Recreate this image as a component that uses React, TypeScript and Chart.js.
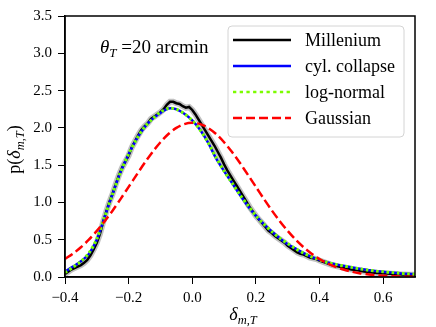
import React, { useEffect, useRef } from 'react';
import { Chart, registerables } from 'chart.js';

Chart.register(...registerables);

// ---------- data ----------
const millX = [
  -0.4, -0.39, -0.38, -0.37, -0.36, -0.35, -0.34, -0.33, -0.32, -0.31, -0.3, -0.29, -0.28, -0.27, -0.26,
  -0.25, -0.24, -0.23, -0.22, -0.21, -0.2, -0.19, -0.18, -0.17, -0.16, -0.15, -0.14, -0.13, -0.12, -0.11,
  -0.1, -0.09, -0.08, -0.07, -0.06, -0.05, -0.04, -0.03, -0.02, -0.01, 0.0, 0.01, 0.02, 0.03, 0.04, 0.05,
  0.06, 0.07, 0.08, 0.09, 0.1, 0.11, 0.12, 0.13, 0.14, 0.15, 0.16, 0.17, 0.18, 0.19, 0.2, 0.21, 0.22, 0.23,
  0.24, 0.25, 0.26, 0.27, 0.28, 0.29, 0.3, 0.31, 0.32, 0.33, 0.34, 0.35, 0.36, 0.37, 0.38, 0.39, 0.4, 0.42,
  0.44, 0.46, 0.48, 0.5, 0.52, 0.54, 0.56, 0.58, 0.6, 0.62, 0.64, 0.66, 0.68, 0.7,
];
const millY = [
  0.04, 0.07, 0.1, 0.12, 0.14, 0.16, 0.19, 0.23, 0.29, 0.37, 0.46, 0.58, 0.74, 0.88, 1.01,
  1.12, 1.25, 1.37, 1.47, 1.55, 1.63, 1.74, 1.82, 1.9, 1.97, 2.02, 2.06, 2.12, 2.15, 2.18,
  2.21, 2.25, 2.31, 2.35, 2.35, 2.33, 2.32, 2.29, 2.27, 2.28, 2.24, 2.18, 2.11, 2.04, 1.97, 1.9,
  1.83, 1.76, 1.68, 1.6, 1.51, 1.43, 1.36, 1.29, 1.22, 1.15, 1.08, 1.01, 0.94, 0.88, 0.82, 0.77, 0.72, 0.67,
  0.62, 0.59, 0.55, 0.52, 0.49, 0.46, 0.42, 0.39, 0.36, 0.33, 0.31, 0.3, 0.28, 0.26, 0.25, 0.24, 0.22, 0.19,
  0.16, 0.14, 0.12, 0.1, 0.09, 0.075, 0.065, 0.055, 0.05, 0.045, 0.04, 0.035, 0.03, 0.03,
];

const modelX = [
  -0.4, -0.375, -0.35, -0.325, -0.3, -0.275, -0.25, -0.225, -0.2, -0.175, -0.15, -0.125, -0.1, -0.075, -0.05,
  -0.025, 0.0, 0.025, 0.05, 0.075, 0.1, 0.125, 0.15, 0.175, 0.2, 0.225, 0.25, 0.275, 0.3, 0.325, 0.35,
  0.375, 0.4, 0.425, 0.45, 0.475, 0.5, 0.525, 0.55, 0.575, 0.6, 0.625, 0.65, 0.675, 0.7,
];
const cylY = [
  0.07, 0.14, 0.21, 0.31, 0.5, 0.81, 1.12, 1.41, 1.65, 1.85, 2.01, 2.12, 2.2, 2.26, 2.25,
  2.19, 2.1, 1.97, 1.8, 1.59, 1.42, 1.26, 1.1, 0.95, 0.82, 0.71, 0.61, 0.52, 0.44, 0.38, 0.32,
  0.27, 0.23, 0.195, 0.17, 0.15, 0.13, 0.11, 0.095, 0.08, 0.07, 0.06, 0.05, 0.043, 0.036,
];
const lnY = [
  0.06, 0.13, 0.21, 0.32, 0.51, 0.81, 1.12, 1.41, 1.65, 1.85, 2.01, 2.12, 2.21, 2.26, 2.25,
  2.19, 2.1, 1.97, 1.8, 1.6, 1.42, 1.26, 1.1, 0.96, 0.82, 0.71, 0.61, 0.52, 0.45, 0.38, 0.32,
  0.27, 0.23, 0.195, 0.17, 0.15, 0.13, 0.11, 0.095, 0.08, 0.07, 0.06, 0.05, 0.043, 0.036,
];
const gaussY = [
  0.242, 0.313, 0.399, 0.5, 0.618, 0.749, 0.893, 1.048, 1.209, 1.37, 1.528, 1.676, 1.807, 1.917, 1.999,
  2.05, 2.067, 2.05, 1.999, 1.917, 1.807, 1.676, 1.528, 1.37, 1.209, 1.048, 0.893, 0.749, 0.618, 0.5, 0.399,
  0.313, 0.242, 0.183, 0.136, 0.1, 0.072, 0.051, 0.036, 0.024, 0.016, 0.011, 0.007, 0.005, 0.003,
];

const xTickVals = [-0.4, -0.2, 0.0, 0.2, 0.4, 0.6];
const yTickVals = [0.0, 0.5, 1.0, 1.5, 2.0, 2.5, 3.0, 3.5];
const legendLabels = ['Millenium', 'cyl. collapse', 'log-normal', 'Gaussian'];
const annotation = { symbol: '\u03B8', sub: 'T', rest: ' =20 arcmin' };

// ---------- styling ----------
const FONT = "'Liberation Serif', 'Times New Roman', serif";

const pts = (xs: number[], ys: number[]) => xs.map((x, i) => ({ x, y: ys[i] }));

type Seg = { t: string; size: number; italic?: boolean; dy?: number };

function drawRich(ctx: CanvasRenderingContext2D, x: number, y: number, segs: Seg[], align: 'left' | 'center') {
  const fontOf = (s: Seg) => `${s.italic ? 'italic ' : ''}${s.size}px ${FONT}`;
  let total = 0;
  for (const s of segs) {
    ctx.font = fontOf(s);
    total += ctx.measureText(s.t).width;
  }
  let cx = align === 'center' ? x - total / 2 : x;
  ctx.textAlign = 'left';
  ctx.textBaseline = 'alphabetic';
  for (const s of segs) {
    ctx.font = fontOf(s);
    ctx.fillText(s.t, cx, y + (s.dy || 0));
    cx += ctx.measureText(s.t).width;
  }
}

const overlayPlugin = {
  id: 'overlay',
  afterDraw(chart: any) {
    const ctx: CanvasRenderingContext2D = chart.ctx;
    const a = chart.chartArea;
    ctx.save();
    // frame
    ctx.strokeStyle = '#000';
    ctx.lineWidth = 1.5;
    ctx.strokeRect(a.left, a.top, a.right - a.left, a.bottom - a.top);

    // legend
    const lx = a.right - 187;
    const ly = a.top + 10;
    const lw = 176;
    const lh = 111;
    ctx.beginPath();
    ctx.roundRect(lx, ly, lw, lh, 4);
    ctx.fillStyle = 'rgba(255,255,255,0.8)';
    ctx.fill();
    ctx.strokeStyle = '#d4d4d4';
    ctx.lineWidth = 1;
    ctx.stroke();
    const styles = [
      { color: '#000000', dash: [] as number[], w: 2.5 },
      { color: '#0000ff', dash: [] as number[], w: 2.5 },
      { color: '#7cfc00', dash: [3.3, 3.4], w: 2.6 },
      { color: '#ff0000', dash: [9, 4], w: 2.5 },
    ];
    legendLabels.forEach((lab, i) => {
      const yy = ly + 14 + i * 26;
      const st = styles[i];
      ctx.beginPath();
      ctx.setLineDash(st.dash);
      ctx.strokeStyle = st.color;
      ctx.lineWidth = st.w;
      ctx.moveTo(lx + 5, yy);
      ctx.lineTo(lx + 63, yy);
      ctx.stroke();
      ctx.setLineDash([]);
      ctx.fillStyle = '#000';
      ctx.font = `18px ${FONT}`;
      ctx.textAlign = 'left';
      ctx.textBaseline = 'middle';
      ctx.fillText(lab, lx + 77, yy + 1);
    });

    // annotation
    ctx.fillStyle = '#000';
    drawRich(ctx, a.left + 35, a.top + 37, [
      { t: annotation.symbol, size: 19, italic: true },
      { t: annotation.sub, size: 13, italic: true, dy: 4 },
      { t: annotation.rest, size: 19 },
    ], 'left');

    // x title
    drawRich(ctx, (a.left + a.right) / 2 + 3, 320, [
      { t: '\u03B4', size: 18, italic: true },
      { t: 'm,T', size: 12.5, italic: true, dy: 4 },
    ], 'center');

    // y title
    ctx.translate(20, (a.top + a.bottom) / 2 + 3);
    ctx.rotate(-Math.PI / 2);
    drawRich(ctx, 0, 0, [
      { t: 'p(', size: 18 },
      { t: '\u03B4', size: 18, italic: true },
      { t: 'm,T', size: 12.5, italic: true, dy: 4 },
      { t: ')', size: 18 },
    ], 'center');
    ctx.restore();
  },
};

export default function App() {
  const ref = useRef<HTMLCanvasElement | null>(null);

  useEffect(() => {
    document.body.style.margin = '0';
    const canvas = ref.current;
    if (!canvas) return;
    const tickFont = { family: FONT, size: 15 };
    const chart = new Chart(canvas, {
      type: 'line',
      data: {
        datasets: [
          {
            label: 'Millenium band',
            data: pts(millX, millY),
            borderColor: 'rgba(160,160,160,0.65)',
            borderWidth: 6,
            pointRadius: 0,
            tension: 0,
            order: 5,
          },
          {
            label: legendLabels[0],
            data: pts(millX, millY),
            borderColor: '#000000',
            borderWidth: 2.5,
            pointRadius: 0,
            tension: 0,
            order: 4,
          },
          {
            label: legendLabels[1],
            data: pts(modelX, cylY),
            borderColor: '#0000ff',
            borderWidth: 2.5,
            pointRadius: 0,
            tension: 0.3,
            order: 3,
          },
          {
            label: legendLabels[2],
            data: pts(modelX, lnY),
            borderColor: '#76ff00',
            borderWidth: 3,
            borderDash: [2.6, 2.6],
            pointRadius: 0,
            tension: 0.3,
            order: 2,
          },
          {
            label: legendLabels[3],
            data: pts(modelX, gaussY),
            borderColor: '#ff0000',
            borderWidth: 2.5,
            borderDash: [9, 4],
            pointRadius: 0,
            tension: 0.3,
            order: 1,
          },
        ],
      },
      options: {
        animation: false,
        responsive: false,
        devicePixelRatio: 1,
        layout: { padding: { top: 16, right: 21, left: 0, bottom: 0 } },
        plugins: { legend: { display: false }, tooltip: { enabled: false } },
        scales: {
          x: {
            type: 'linear',
            min: -0.4,
            max: 0.7,
            afterBuildTicks: (scale: any) => {
              scale.ticks = xTickVals.map((v) => ({ value: v }));
            },
            afterFit: (scale: any) => {
              scale.height = 50;
            },
            ticks: {
              font: tickFont,
              color: '#000',
              padding: 5,
              maxRotation: 0,
              callback: (v: any) => {
                const n = Number(v);
                const s = Math.abs(n).toFixed(1);
                return n < -1e-9 ? '\u2212' + s : s;
              },
            },
            grid: { drawOnChartArea: false, drawTicks: true, tickLength: 7, tickColor: '#000', tickWidth: 1 },
            border: { display: true, color: '#000', width: 1.5 },
          },
          y: {
            type: 'linear',
            min: 0,
            max: 3.5,
            afterBuildTicks: (scale: any) => {
              scale.ticks = yTickVals.map((v) => ({ value: v }));
            },
            afterFit: (scale: any) => {
              scale.width = 65;
            },
            ticks: {
              font: tickFont,
              color: '#000',
              padding: 6,
              callback: (v: any) => Number(v).toFixed(1),
            },
            grid: { drawOnChartArea: false, drawTicks: true, tickLength: 7, tickColor: '#000', tickWidth: 1 },
            border: { display: true, color: '#000', width: 1.5 },
          },
        },
      },
      plugins: [overlayPlugin],
    } as any);
    return () => chart.destroy();
  }, []);

  return <canvas ref={ref} width={436} height={327} style={{ display: 'block' }} />;
}
